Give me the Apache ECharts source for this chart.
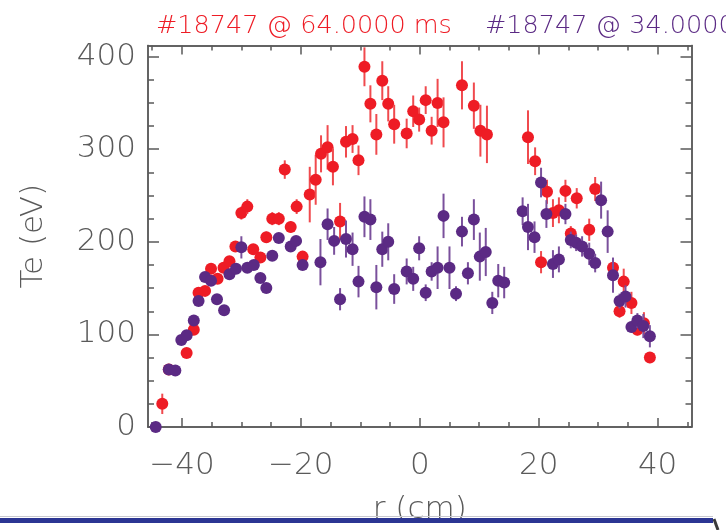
<!DOCTYPE html>
<html><head><meta charset="utf-8">
<script src="https://cdn.jsdelivr.net/npm/echarts@6/dist/echarts.min.js"></script>
<style>html,body{margin:0;padding:0;background:#fff}#c{width:726px;height:530px}</style>
</head><body><div id="c"></div>
<script>
// Shot #18747 @ 64 ms (red)
const r64 = [-43.3,-42.2,-39.2,-38.0,-37.2,-36.1,-35.1,-34.0,-33.0,-32.0,-31.0,-30.0,-29.0,-28.0,-26.8,-25.8,-24.8,-23.7,-22.7,-21.7,-20.7,-19.7,-18.5,-17.5,-16.6,-15.5,-14.6,-13.4,-12.4,-11.3,-10.3,-9.3,-8.3,-7.3,-6.3,-5.3,-4.3,-2.2,-1.1,-0.1,1.0,2.0,3.0,4.0,7.1,9.1,10.2,11.3,18.2,19.4,20.4,21.4,22.4,23.4,24.5,25.4,26.4,28.5,29.5,32.5,33.6,34.3,35.6,36.6,37.7,38.7];
const te64 = [25,62,80,105,145,147,171,160,172,179,195,231,238,192,183,205,225,225,278,216,238,184,251,267,295,302,281,222,308,311,288,389,349,316,374,349,327,317,341,332,353,320,350,329,369,347,320,316,313,287,178,254,231,234,255,209,247,213,257,172,125,157,134,105,112,75];
const e64 = [11,5,4,4,4,4,4,4,4,4,5,7,8,4,4,6,7,7,10,6,8,4,30,27,20,24,20,20,17,15,16,21,20,22,21,19,21,16,17,13,15,15,26,27,26,25,28,31,29,15,12,13,15,14,12,8,11,12,13,8,7,14,12,6,12,6];
// Shot #18747 @ 34 ms (purple)
const r34 = [-44.4,-42.2,-41.1,-40.1,-39.2,-38.0,-37.2,-36.1,-35.1,-34.1,-32.9,-32.0,-30.9,-30.0,-29.0,-27.9,-26.8,-25.8,-24.8,-23.7,-21.7,-20.8,-19.7,-16.7,-15.5,-14.4,-13.4,-12.4,-11.3,-10.3,-9.3,-8.3,-7.3,-6.3,-5.3,-4.3,-2.2,-1.1,-0.1,1.0,2.0,3.0,4.0,5.0,6.1,7.1,8.1,9.1,10.1,11.1,12.2,13.2,14.2,17.3,18.2,19.3,20.4,21.3,22.4,23.4,24.5,25.4,26.3,27.3,28.5,29.5,30.5,31.6,32.5,33.6,34.6,35.6,36.6,37.6,38.7];
const te34 = [0,62,61,94,99,115,136,162,158,138,126,165,171,194,172,175,161,150,185,204,195,201,175,178,219,201,138,203,192,157,227,224,151,192,200,149,168,160,193,145,168,172,228,172,144,211,166,224,184,189,134,158,156,233,216,205,264,230,176,181,230,202,199,195,187,177,245,211,164,136,141,108,115,109,98];
const e34 = [3,5,5,3,3,3,3,3,3,3,3,3,3,12,4,4,4,4,5,5,5,5,5,25,17,15,12,20,18,17,22,22,24,19,20,16,14,13,13,9,10,23,24,23,8,16,12,22,26,26,12,18,17,15,25,17,16,15,15,14,11,9,9,11,12,10,20,23,19,8,12,6,8,13,12];
const xMajor = [-40,-20,0,20,40];
const xMinor = [-45,-35,-30,-25,-15,-10,-5,5,10,15,25,30,35,45];
const yMajor = [0,100,200,300,400];
const yMinor = [25,50,75,125,150,175,225,250,275,325,350,375];
const title64 = '#18747 @ 64.0000 ms';
const title34 = '#18747 @ 34.0000 ms';

const FONT = 'DejaVu Sans';
const FW = 200;
const AX = '#5a5a5a';
const RED = '#ee1c25', RED_BAR = '#f04a4e';
const PUR = '#5b2a84', PUR_BAR = '#7a509c';

function zip(a,b,c){ return a.map((v,i)=>[v,b[i],c[i]]); }
function errRender(fill, bar){
  return function(params, api){
    const x = api.value(0), y = api.value(1), e = api.value(2);
    const p = api.coord([x,y]);
    const hi = api.coord([x,y+e]), lo = api.coord([x,y-e]);
    return {type:'group', children:[
      {type:'line', shape:{x1:p[0],y1:hi[1],x2:p[0],y2:lo[1]}, style:{stroke:bar,lineWidth:2}},
      {type:'circle', shape:{cx:p[0],cy:p[1],r:6}, style:{fill:fill}}
    ]};
  };
}
const XMIN=-45.7, XMAX=45.7, YMIN=0, YMAX=412;
function xAx(pos, vals, len, labels, name){
  return {type:'value', min:XMIN, max:XMAX, position:pos,
    axisLine:{show:true, onZero:false, lineStyle:{color:AX,width:1.5}},
    axisTick:{show:true, inside:true, length:len, customValues:vals, lineStyle:{color:AX,width:1.5}},
    axisLabel:labels?{show:true, customValues:xMajor, fontFamily:FONT, fontWeight:FW, fontSize:31, color:AX, margin:23,
      formatter:v=> v<0 ? '\u2212'+Math.abs(v) : String(v)}:{show:false},
    splitLine:{show:false},
    name: name||'', nameLocation:'middle', nameGap:67,
    nameTextStyle:{fontFamily:FONT, fontWeight:FW, fontSize:31, color:AX}};
}
function yAx(pos, vals, len, labels, name){
  return {type:'value', min:YMIN, max:YMAX, position:pos,
    axisLine:{show:true, onZero:false, lineStyle:{color:AX,width:1.5}},
    axisTick:{show:true, inside:true, length:len, customValues:vals, lineStyle:{color:AX,width:1.5}},
    axisLabel:labels?{show:true, customValues:yMajor, fontFamily:FONT, fontWeight:FW, fontSize:31, color:AX, margin:12}:{show:false},
    splitLine:{show:false},
    name: name||'', nameLocation:'middle', nameGap:99,
    nameTextStyle:{fontFamily:FONT, fontWeight:FW, fontSize:31, color:AX}};
}
const chart = echarts.init(document.getElementById('c'), null, {renderer:'canvas'});
chart.setOption({
  animation:false,
  backgroundColor:'#ffffff',
  grid:{left:148, right:34.5, top:45.5, bottom:100, containLabel:false},
  xAxis:[xAx('bottom',xMajor,9,true,'r (cm)'), xAx('bottom',xMinor,5,false), xAx('top',xMajor,9,false), xAx('top',xMinor,5,false)],
  yAxis:[yAx('left',yMajor,11,true,'Te (eV)'), yAx('left',yMinor,6,false), yAx('right',yMajor,11,false), yAx('right',yMinor,6,false)],
  title:[
    {text:title64, left:151, top:8, textStyle:{fontFamily:FONT, fontWeight:FW, fontSize:25.5, color:RED}},
    {text:title34, left:480, top:8, textStyle:{fontFamily:FONT, fontWeight:FW, fontSize:25.5, color:PUR}}
  ],
  series:[
    {type:'custom', name:'64 ms', xAxisIndex:0, yAxisIndex:0, data:zip(r64,te64,e64), renderItem:errRender(RED,RED_BAR), clip:false, z:2},
    {type:'custom', name:'34 ms', xAxisIndex:0, yAxisIndex:0, data:zip(r34,te34,e34), renderItem:errRender(PUR,PUR_BAR), clip:false, z:3}
  ],
  graphic:[
    {type:'rect', z:100, shape:{x:0,y:516,width:713,height:1}, style:{fill:'#c8c8d0'}},
    {type:'rect', z:100, shape:{x:0,y:518,width:713,height:5}, style:{fill:'#2b3593'}},
    {type:'line', z:100, shape:{x1:714,y1:519,x2:718,y2:530}, style:{stroke:'#3a3a3a',lineWidth:3}}
  ]
});
</script></body></html>
